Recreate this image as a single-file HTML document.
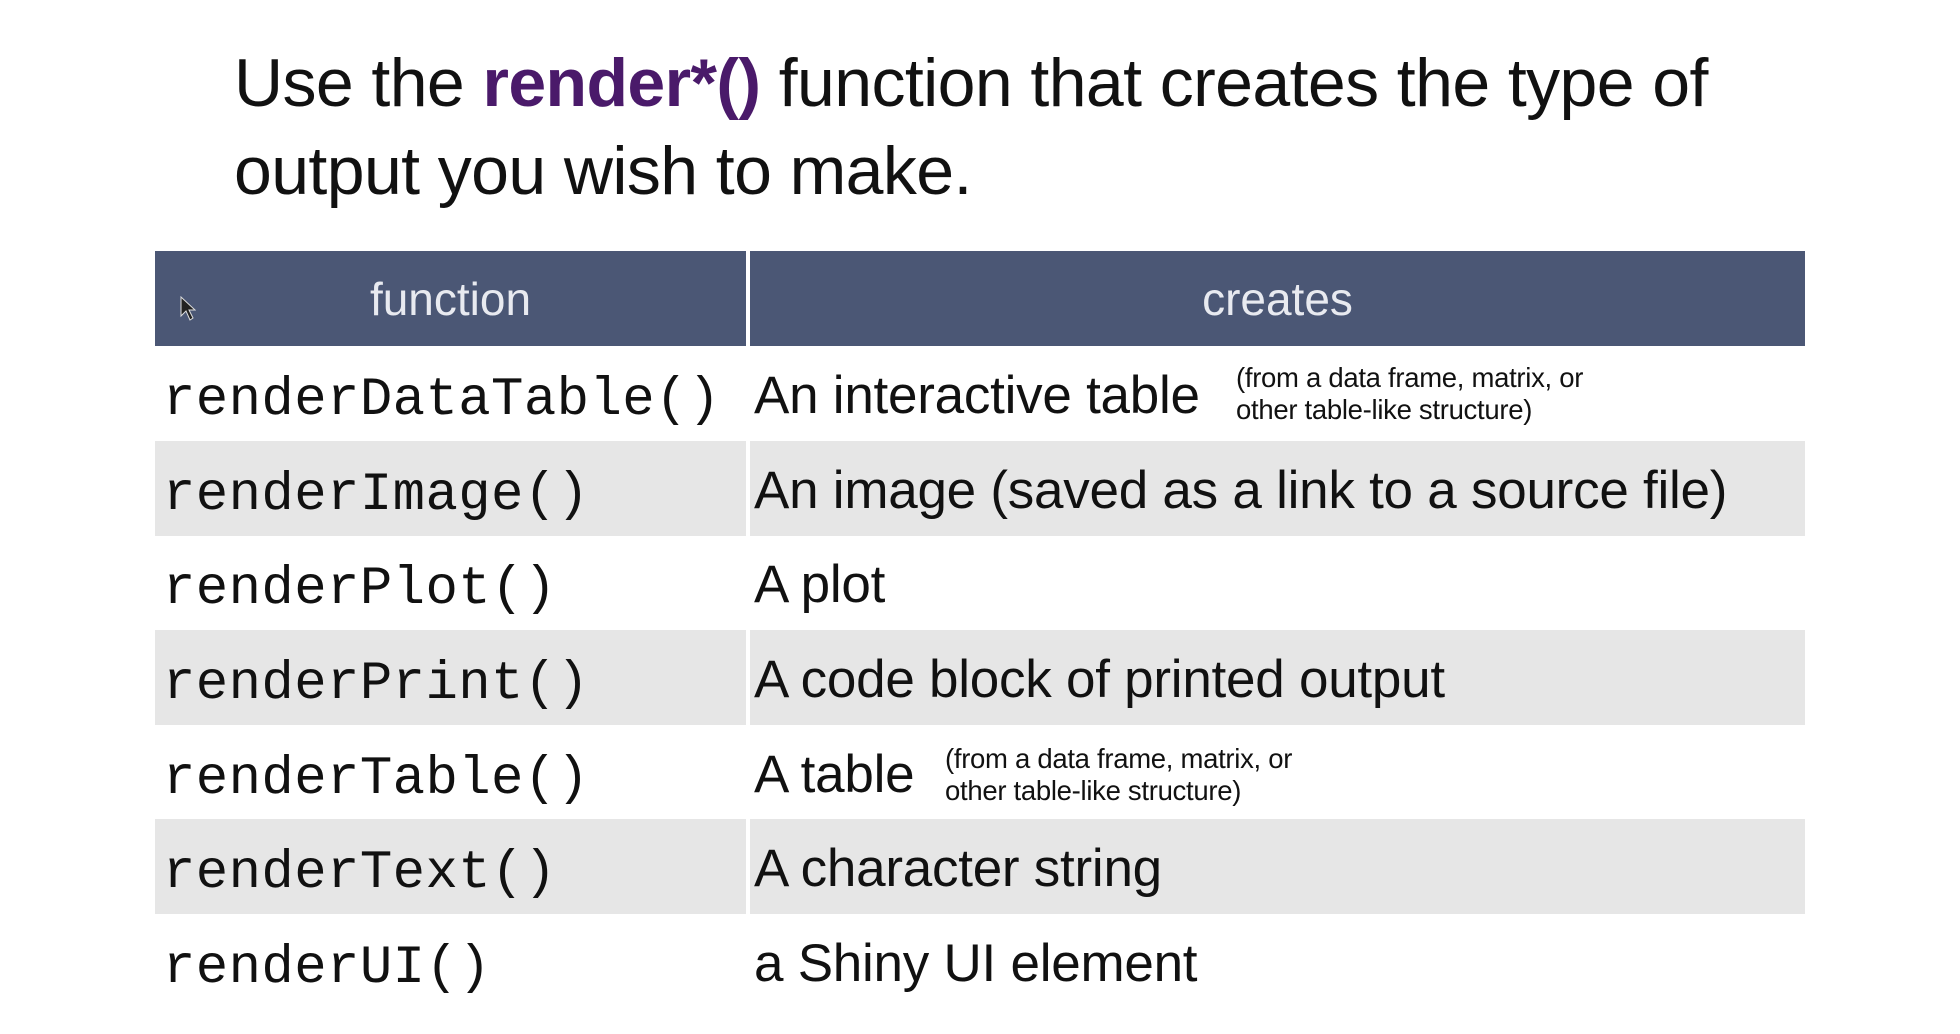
<!DOCTYPE html>
<html><head><style>
body{margin:0;width:1960px;height:1034px;background:#fff;position:relative;overflow:hidden;font-family:"Liberation Sans",sans-serif;color:#111}
.t{position:absolute;white-space:nowrap}
.title{left:234px;font-size:68px;letter-spacing:-0.6px}
.hdr{position:absolute;top:251px;height:95px;background:#4b5775;}
.row{position:absolute;left:155px;width:1650px;height:95px}
.g{background:#e6e6e6}
.mono{font-family:"Liberation Mono",monospace;font-size:54px;left:163px;letter-spacing:0.4px}
.d{font-size:53px;left:754px;letter-spacing:-0.25px}
.n{font-size:27.5px;line-height:32px;letter-spacing:-0.3px}
.h{color:#e8eaf0;font-size:46px;top:272px}
</style></head><body>
<div class="t title" style="top:44px">Use the <b style="color:#4a1a6a">render*()</b> function that creates the type of</div>
<div class="t title" style="top:132px">output you wish to make.</div>
<div class="hdr" style="left:155px;width:591px"></div>
<div class="hdr" style="left:750px;width:1055px"></div>
<div class="t h" style="left:155px;width:591px;text-align:center">function</div>
<div class="t h" style="left:750px;width:1055px;text-align:center">creates</div>
<svg style="position:absolute;left:180px;top:296px" width="16" height="26"><path d="M1 1 L1 20 L6 15 L10 24 L13 22 L9 14 L15 14 Z" fill="#222" stroke="#ddd" stroke-width="1"/></svg>
<div class="row g" style="top:441px"></div>
<div class="row g" style="top:630px"></div>
<div class="row g" style="top:819px"></div>
<div style="position:absolute;left:746px;top:346px;width:4px;height:668px;background:#fff"></div>
<div class="t mono" style="top:370px">renderDataTable()</div>
<div class="t mono" style="top:465px">renderImage()</div>
<div class="t mono" style="top:559px">renderPlot()</div>
<div class="t mono" style="top:654px">renderPrint()</div>
<div class="t mono" style="top:749px">renderTable()</div>
<div class="t mono" style="top:843px">renderText()</div>
<div class="t mono" style="top:938px">renderUI()</div>
<div class="t d" style="top:365px">An interactive table</div>
<div class="t n" style="left:1236px;top:362px">(from a data frame, matrix, or<br>other table-like structure)</div>
<div class="t d" style="top:460px">An image (saved as a link to a source file)</div>
<div class="t d" style="top:554px">A plot</div>
<div class="t d" style="top:649px">A code block of printed output</div>
<div class="t d" style="top:744px">A table</div>
<div class="t n" style="left:945px;top:743px">(from a data frame, matrix, or<br>other table-like structure)</div>
<div class="t d" style="top:838px">A character string</div>
<div class="t d" style="top:933px">a Shiny UI element</div>
</body></html>
